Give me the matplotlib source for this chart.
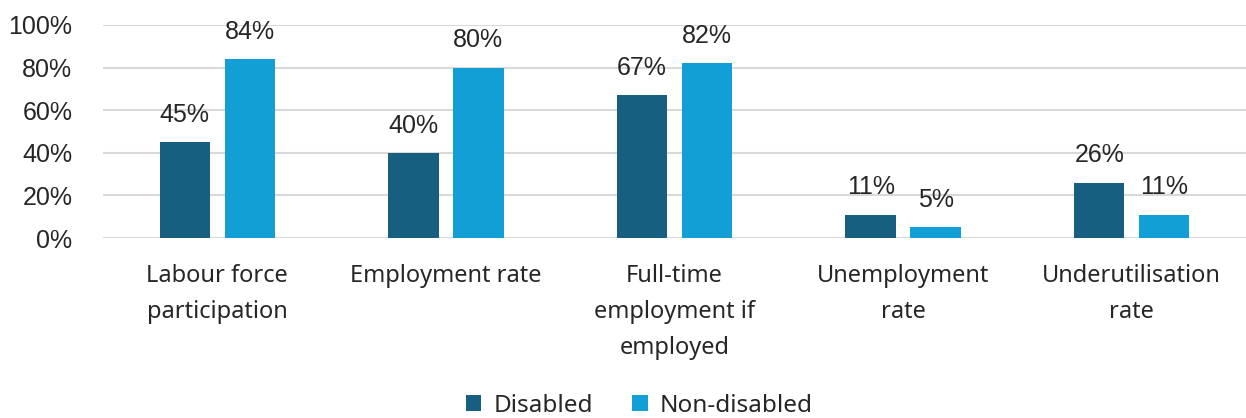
import matplotlib
matplotlib.use("Agg")
import matplotlib.pyplot as plt
import numpy as np

categories = ["Labour force\nparticipation", "Employment rate", "Full-time\nemployment if\nemployed",
              "Unemployment\nrate", "Underutilisation\nrate"]
disabled = [45, 40, 67, 11, 26]
non_disabled = [84, 80, 82, 5, 11]
series_names = ["Disabled", "Non-disabled"]
y_ticks = [0, 20, 40, 60, 80, 100]

col_dis = "#175f80"
col_non = "#119fd6"

fig = plt.figure(figsize=(12.46, 4.18), dpi=100)
ax = fig.add_axes([103 / 1246, 1 - 238 / 418, 1 - 103 / 1246, 213 / 418])

x = np.arange(len(categories))
w = 0.22
off = 0.142
b1 = ax.bar(x - off, disabled, w, color=col_dis, label=series_names[0], zorder=3)
b2 = ax.bar(x + off, non_disabled, w, color=col_non, label=series_names[1], zorder=3)

for bars, vals in ((b1, disabled), (b2, non_disabled)):
    for b, v in zip(bars, vals):
        ax.annotate(f"{v}%", (b.get_x() + b.get_width() / 2, v), xytext=(0, 11),
                    textcoords="offset points", ha="center", va="bottom",
                    fontsize=18, family="Liberation Sans", color="#262626")

ax.set_xlim(-0.5, 4.5)
ax.set_ylim(0, 100)
ax.set_yticks(y_ticks)
ax.set_yticklabels([f"{t}%" for t in y_ticks], family="Liberation Sans", fontsize=18, color="#262626")
ax.set_xticks(x)
ax.set_xticklabels(categories, family="Noto Sans", fontsize=17, color="#262626", linespacing=1.65)
ax.tick_params(axis="both", length=0)
ax.tick_params(axis="x", pad=19)
ax.tick_params(axis="y", pad=22)
ax.grid(axis="y", color="#d9d9d9", linewidth=1.5, zorder=0)
for s in ax.spines.values():
    s.set_visible(False)

leg = fig.legend(loc="lower center", bbox_to_anchor=(0.513, -0.052), ncol=2, frameon=False,
                 prop={"family": "Noto Sans", "size": 17.5}, handlelength=0.65, handleheight=0.65,
                 columnspacing=1.6, handletextpad=0.5)
for t in leg.get_texts():
    t.set_color("#262626")

fig.savefig("out.png", dpi=100)
